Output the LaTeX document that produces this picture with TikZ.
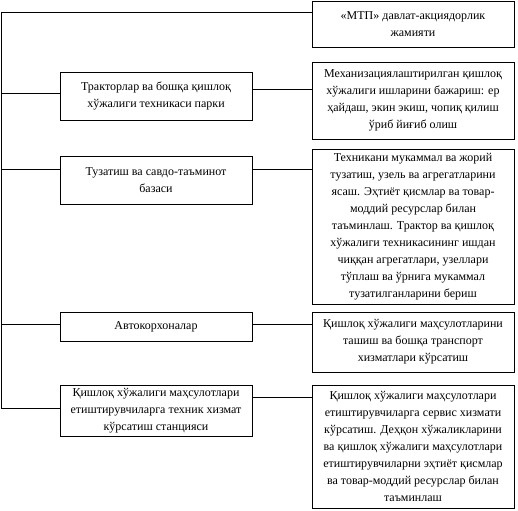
\documentclass[tikz,border=0pt]{standalone}
\usepackage{fontspec}
\setmainfont{Liberation Serif}
\begin{document}
\begin{tikzpicture}[x=1pt,y=1pt,
  box/.style={draw=black,line width=0.8pt,rectangle,inner sep=0pt,align=center,
    font=\fontsize{12}{17}\selectfont},
  lbox/.style={box,minimum width=192pt},
  rbox/.style={box,minimum width=202pt},
  conn/.style={draw=black,line width=0.8pt}]
\useasboundingbox (0,0) rectangle (518,-510);
\node[rbox,minimum height=46pt] (R1) at (413,-24) {«МТП» давлат-акциядорлик\\жамияти};
\node[lbox,minimum height=48pt] (L2) at (156,-96) {Тракторлар ва бошқа қишлоқ\\хўжалиги техникаси парки};
\node[rbox,minimum height=77pt] (R2) at (413,-100.5) {Механизациялаштирилган қишлоқ\\хўжалиги ишларини бажариш: ер\\ҳайдаш, экин экиш, чопиқ қилиш\\ўриб йиғиб олиш};
\node[lbox,minimum height=48pt] (L3) at (156,-180) {Тузатиш ва савдо-таъминот\\базаси};
\node[rbox,minimum height=155pt] (R3) at (413,-226.5) {Техникани мукаммал ва жорий\\тузатиш, узель ва агрегатларини\\ясаш. Эҳтиёт қисмлар ва товар-\\моддий ресурслар билан\\таъминлаш. Трактор ва қишлоқ\\хўжалиги техникасининг ишдан\\чиққан агрегатлари, узеллари\\тўплаш ва ўрнига мукаммал\\тузатилганларини бериш};
\node[lbox,minimum height=29pt] (L4) at (156,-326.5) {Автокорхоналар};
\node[rbox,minimum height=60pt] (R4) at (413,-342) {Қишлоқ хўжалиги маҳсулотларини\\ташиш ва бошқа транспорт\\хизматлари кўрсатиш};
\node[lbox,minimum height=51pt] (L5) at (156,-410.5) {Қишлоқ хўжалиги маҳсулотлари\\етиштирувчиларга техник хизмат\\кўрсатиш станцияси};
\node[rbox,minimum height=123pt] (R5) at (413,-446.5) {Қишлоқ хўжалиги маҳсулотлари\\етиштирувчиларга сервис хизмати\\кўрсатиш. Деҳқон хўжаликларини\\ва қишлоқ хўжалиги маҳсулотлари\\етиштирувчиларни эҳтиёт қисмлар\\ва товар-моддий ресурслар билан\\таъминлаш};
\coordinate (T) at (1,-12);
\coordinate (B) at (1,-408);
\draw[conn] (R1.west |- T) -- (T) -- (B) -- (L5.west |- B);
\draw[conn] (1,-93) -- (L2.west |- 0,-93);
\draw[conn] (L2.east |- 0,-89) -- (R2.west |- 0,-89);
\draw[conn] (1,-169) -- (L3.west |- 0,-169);
\draw[conn] (L3.east |- 0,-169) -- (R3.west |- 0,-169);
\draw[conn] (1,-324) -- (L4.west |- 0,-324);
\draw[conn] (L4.east |- 0,-324) -- (R4.west |- 0,-324);
\draw[conn] (L5.east |- 0,-397) -- (R5.west |- 0,-397);
\end{tikzpicture}
\end{document}
